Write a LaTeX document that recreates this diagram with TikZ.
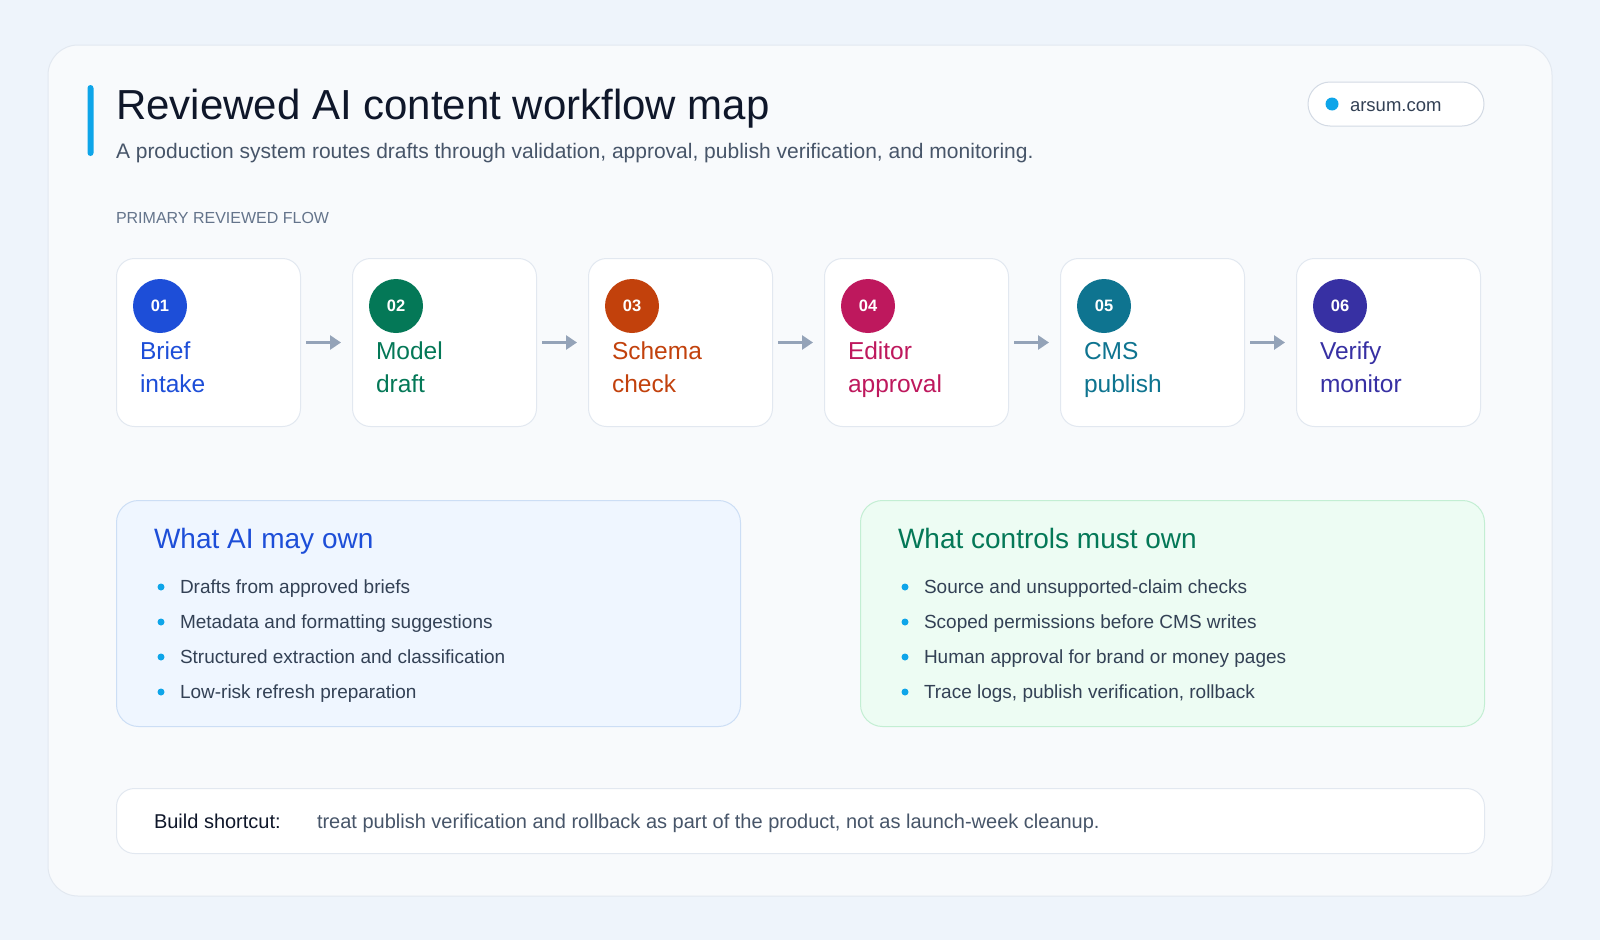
\documentclass[tikz,border=0pt]{standalone}
\usepackage{fontspec}
\setmainfont{Liberation Sans}
\usetikzlibrary{arrows.meta}
\definecolor{bg}{HTML}{EEF4FB}
\definecolor{card}{HTML}{F8FAFC}
\definecolor{cardline}{HTML}{E2E8F0}
\definecolor{pillline}{HTML}{D3DAE4}
\definecolor{ink}{HTML}{0F172A}
\definecolor{slate}{HTML}{475569}
\definecolor{slatedark}{HTML}{334155}
\definecolor{muted}{HTML}{64748B}
\definecolor{sky}{HTML}{0EA5E9}
\definecolor{arrowgray}{HTML}{94A3B8}
\definecolor{sA}{HTML}{1D4ED8}
\definecolor{sB}{HTML}{047857}
\definecolor{sC}{HTML}{C2410C}
\definecolor{sD}{HTML}{BE185D}
\definecolor{sE}{HTML}{0E7490}
\definecolor{sF}{HTML}{3730A3}
\definecolor{bluefill}{HTML}{EFF6FF}
\definecolor{blueline}{HTML}{CCDEF5}
\definecolor{greenfill}{HTML}{EDFCF3}
\definecolor{greenline}{HTML}{C3EED3}
\newcommand{\fsz}[2]{\fontsize{#1}{#2}\selectfont}
\begin{document}
\begin{tikzpicture}[x=1pt,y=-1pt,
  txt/.style={inner sep=0pt, outer sep=0pt},
  stepbox/.style={draw=cardline, fill=white, line width=1pt, rounded corners=18pt, minimum width=184pt, minimum height=168pt, inner sep=0pt},
  stepnum/.style={circle, minimum size=54pt, inner sep=0pt, text=white, font=\fsz{16.5}{18}\bfseries},
  steplabel/.style={txt, anchor=base west, font=\fsz{24.5}{30}},
  flowarrow/.style={draw=arrowgray, line width=3.5pt, shorten <=5pt, shorten >=11pt, -{Triangle[length=11pt,width=14pt]}},
  panel/.style={line width=1pt, rounded corners=22pt, minimum width=624pt, minimum height=226pt, inner sep=0pt, anchor=north west},
  bullettext/.style={txt, anchor=base west, text=slatedark, font=\fsz{19}{22}},
  bulletdot/.style={circle, fill=sky, minimum size=7pt, inner sep=0pt}
]
\useasboundingbox (0,0) rectangle (1600,940);
\fill[bg] (0,0) rectangle (1600,940);
\draw[cardline, fill=card, rounded corners=30pt, line width=1pt] (48,45) rectangle (1552,896);

% header
\fill[sky, rounded corners=3pt] (87.5,85) rectangle (93.5,156);
\node[txt, anchor=base west, text=ink, font=\fsz{42}{50}] (title) at (116,119) {Reviewed AI content workflow map};
\node[txt, anchor=base west, text=slate, font=\fsz{21}{24}] (subtitle) at (116,158) {A production system routes drafts through validation, approval, publish verification, and monitoring.};
\node[draw=pillline, fill=white, line width=1pt, rounded corners=22pt, minimum width=176pt, minimum height=44pt, inner sep=0pt] (pill) at (1396,104) {};
\node[circle, fill=sky, minimum size=13pt, inner sep=0pt] (pilldot) at (1332,104) {};
\node[txt, anchor=base west, text=slatedark, font=\fsz{18.5}{22}] (pilltext) at (1350,111) {arsum.com};

\node[txt, anchor=base west, text=muted, font=\fsz{16}{18}] (flowlabel) at (116,223) {PRIMARY REVIEWED FLOW};

% steps
\foreach \i/\n/\la/\lb/\col in {0/01/Brief/intake/sA, 1/02/Model/draft/sB, 2/03/Schema/check/sC, 3/04/Editor/approval/sD, 4/05/CMS/publish/sE, 5/06/Verify/monitor/sF}{
  \pgfmathsetmacro\bx{116+236*\i}
  \node[stepbox, anchor=north west] (box\i) at (\bx,258) {};
  \node[stepnum, fill=\col] (num\i) at (\bx+44,306) {\n};
  \node[steplabel, text=\col] (la\i) at (\bx+24,359) {\la};
  \node[steplabel, text=\col] (lb\i) at (\bx+24,392) {\lb};
}
\foreach \i in {0,...,4}{
  \pgfmathtruncatemacro\j{\i+1}
  \draw[flowarrow] (box\i.east) -- (box\j.west);
}

% panels
\node[panel, fill=bluefill, draw=blueline] (aipanel) at (116,500) {};
\node[txt, anchor=base west, text=sA, font=\fsz{28}{32}] (aihead) at (154,548) {What AI may own};
\foreach \k/\t in {0/Drafts from approved briefs, 1/Metadata and formatting suggestions, 2/Structured extraction and classification, 3/Low-risk refresh preparation}{
  \node[bulletdot] (aidot\k) at (161,587+35*\k) {};
  \node[bullettext] (aiitem\k) at (180,593+35*\k) {\t};
}
\node[panel, fill=greenfill, draw=greenline] (ctlpanel) at (860,500) {};
\node[txt, anchor=base west, text=sB, font=\fsz{28}{32}] (ctlhead) at (898,548) {What controls must own};
\foreach \k/\t in {0/Source and unsupported-claim checks, 1/Scoped permissions before CMS writes, 2/Human approval for brand or money pages, 3/{Trace logs, publish verification, rollback}}{
  \node[bulletdot] (ctldot\k) at (905,587+35*\k) {};
  \node[bullettext] (ctlitem\k) at (924,593+35*\k) {\t};
}

% bottom bar
\node[draw=cardline, fill=white, line width=1pt, rounded corners=18pt, minimum width=1368pt, minimum height=65pt, inner sep=0pt, anchor=north west] (shortcut) at (116,788) {};
\node[txt, anchor=base west, text=ink, font=\fsz{20}{24}] (shortlabel) at (154,828) {Build shortcut:};
\node[txt, anchor=base west, text=slate, font=\fsz{20}{24}] (shorttext) at (317,828) {treat publish verification and rollback as part of the product, not as launch-week cleanup.};
\end{tikzpicture}
\end{document}
